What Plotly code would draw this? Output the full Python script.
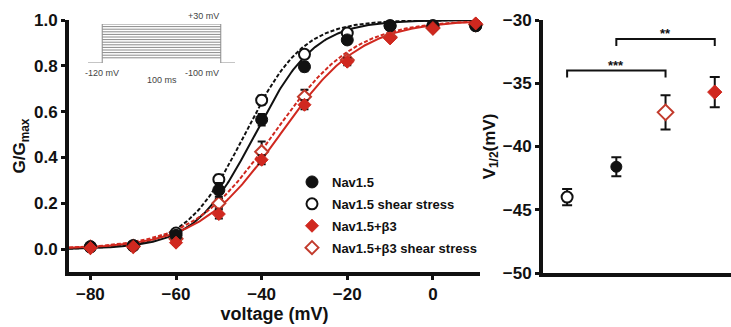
import numpy as np
import plotly.graph_objects as go

# ---- conductance-voltage data (G/Gmax) ----
voltages = [-80, -70, -60, -50, -40, -30, -20, -10, 0, 10]
g_nav15 = [0.010, 0.015, 0.060, 0.258, 0.565, 0.796, 0.913, 0.975, 0.975, 0.975]
g_nav15_err = [0.005, 0.005, 0.010, 0.030, 0.025, 0.020, 0.010, 0.005, 0.005, 0.005]
g_nav15_ss = [0.010, 0.015, 0.070, 0.304, 0.650, 0.850, 0.943, 0.975, 0.975, 0.975]
g_nav15_ss_err = [0.005, 0.005, 0.010, 0.020, 0.020, 0.015, 0.010, 0.005, 0.005, 0.005]
g_b3 = [0.005, 0.010, 0.028, 0.153, 0.390, 0.630, 0.818, 0.920, 0.965, 0.985]
g_b3_err = [0.005, 0.005, 0.010, 0.020, 0.020, 0.020, 0.015, 0.005, 0.005, 0.005]
g_b3_ss = [0.008, 0.012, 0.045, 0.200, 0.425, 0.665, 0.825, 0.925, 0.965, 0.980]
g_b3_ss_err = [0.005, 0.005, 0.010, 0.020, 0.045, 0.030, 0.015, 0.005, 0.005, 0.005]

# ---- half-activation voltages (right panel), order along x ----
vhalf_labels = ["Nav1.5 shear stress", "Nav1.5", "Nav1.5+β3 shear stress", "Nav1.5+β3"]
vhalf = [-44.0, -41.6, -37.3, -35.7]
vhalf_err = [0.65, 0.75, 1.35, 1.2]

# Boltzmann slope factors for the fitted curves (same order as vhalf)
slope_k = [6.8, 7.0, 9.5, 9.5]

# significance brackets: (from index, to index, height, label)
sig_pairs = [(0, 2, -34.0, "***"), (1, 3, -31.5, "**")]

# stimulation protocol (inset)
protocol_levels = list(range(-100, 31, 10))
holding_mv = -120
step_ms = 100

BLACK = "#111111"
RED = "#d0281f"
RED_DARK = "#c23a2c"
W, H = 731, 327


def px_x(p):
    return p / W


def px_y(p):
    return 1 - p / H


fig = go.Figure()

# fitted Boltzmann curves
v_fit = np.linspace(-85, 11, 300)
curve_styles = {
    "Nav1.5 shear stress": dict(color=BLACK, dash="4px,2px"),
    "Nav1.5": dict(color=BLACK, dash="solid"),
    "Nav1.5+β3 shear stress": dict(color=RED, dash="4px,2px"),
    "Nav1.5+β3": dict(color=RED, dash="solid"),
}
for name, vh, k in zip(vhalf_labels, vhalf, slope_k):
    g_fit = 1.0 / (1.0 + np.exp((vh - v_fit) / k))
    st = curve_styles[name]
    fig.add_trace(go.Scatter(
        x=v_fit, y=g_fit, mode="lines", showlegend=False, hoverinfo="skip",
        line=dict(color=st["color"], width=2, dash=st["dash"]),
        xaxis="x", yaxis="y"))

err_style = dict(type="data", color=BLACK, thickness=2, width=4)

series = [
    ("Nav1.5", g_nav15, g_nav15_err,
     dict(symbol="circle", size=12, color=BLACK, line=dict(color=BLACK, width=1))),
    ("Nav1.5 shear stress", g_nav15_ss, g_nav15_ss_err,
     dict(symbol="circle", size=11, color="white", line=dict(color=BLACK, width=2))),
    ("Nav1.5+β3", g_b3, g_b3_err,
     dict(symbol="diamond", size=10, color=RED, line=dict(color=RED, width=1))),
    ("Nav1.5+β3 shear stress", g_b3_ss, g_b3_ss_err,
     dict(symbol="diamond", size=10, color="white", line=dict(color=RED_DARK, width=2))),
]
# draw shear-stress sets first so the control markers sit on top
draw_order = [1, 3, 0, 2]
legend_rank = {0: 1, 1: 2, 2: 3, 3: 4}
for i in draw_order:
    name, g, ge, mk = series[i]
    fig.add_trace(go.Scatter(
        x=voltages, y=g, mode="markers", name=name, marker=mk,
        error_y=dict(array=ge, **err_style), cliponaxis=False,
        legendgroup=name, legendrank=legend_rank[i],
        xaxis="x", yaxis="y"))

# right panel: V1/2 values
right_markers = [
    dict(symbol="circle", size=11, color="white", line=dict(color=BLACK, width=2)),
    dict(symbol="circle", size=11, color=BLACK, line=dict(color=BLACK, width=1)),
    dict(symbol="diamond", size=12, color="white", line=dict(color=RED_DARK, width=2)),
    dict(symbol="diamond", size=11, color=RED, line=dict(color=RED, width=1)),
]
for i, (name, v, e) in enumerate(zip(vhalf_labels, vhalf, vhalf_err)):
    fig.add_trace(go.Scatter(
        x=[i], y=[v], mode="markers", showlegend=False, marker=right_markers[i],
        error_y=dict(array=[e], type="data", color=BLACK, thickness=2, width=5),
        xaxis="x2", yaxis="y2"))

# significance brackets
annotations = []
for a, b, h, lab in sig_pairs:
    tip = h - 0.55
    fig.add_trace(go.Scatter(
        x=[a, a, b, b], y=[tip, h, h, tip], mode="lines", showlegend=False,
        hoverinfo="skip", line=dict(color=BLACK, width=2),
        xaxis="x2", yaxis="y2"))
    annotations.append(dict(
        x=(a + b) / 2, y=h, xref="x2", yref="y2", text=lab, showarrow=False,
        yanchor="bottom", yshift=-4,
        font=dict(size=13, color=BLACK, family="Liberation Sans", weight="bold")))

# inset: voltage-step protocol
t_pre, t_post = -12, step_ms + 12
for lvl in protocol_levels:
    fig.add_trace(go.Scatter(
        x=[0, step_ms], y=[lvl, lvl], mode="lines", showlegend=False,
        hoverinfo="skip", line=dict(color="#8a8a8a", width=1),
        xaxis="x3", yaxis="y3"))
fig.add_trace(go.Scatter(
    x=[t_pre, 0, 0, None, step_ms, step_ms, t_post],
    y=[holding_mv, holding_mv, max(protocol_levels), None,
       max(protocol_levels), holding_mv, holding_mv],
    mode="lines", showlegend=False, hoverinfo="skip",
    line=dict(color="#8a8a8a", width=1), xaxis="x3", yaxis="y3"))

inset_font = dict(size=9, color="#444444", family="Liberation Sans", weight="normal")
annotations += [
    dict(x=step_ms, y=max(protocol_levels), xref="x3", yref="y3", text="+30 mV",
         showarrow=False, xanchor="right", yanchor="bottom", yshift=1, font=inset_font),
    dict(x=0, y=holding_mv, xref="x3", yref="y3", text="-120 mV",
         showarrow=False, xanchor="center", yanchor="top", yshift=-3, font=inset_font),
    dict(x=step_ms, y=holding_mv, xref="x3", yref="y3", text="-100 mV",
         showarrow=False, xanchor="right", yanchor="top", yshift=-3, font=inset_font),
    dict(x=step_ms / 2, y=holding_mv, xref="x3", yref="y3", text="100 ms",
         showarrow=False, xanchor="center", yanchor="top", yshift=-10, font=inset_font),
]

axis_common = dict(showline=True, linecolor=BLACK, linewidth=4, showgrid=False,
                   zeroline=False, ticks="outside", ticklen=4, tickwidth=2.5,
                   tickcolor=BLACK, automargin=False,
                   tickfont=dict(size=17, color=BLACK, family="Liberation Sans", weight="bold"))

fig.update_layout(
    width=W, height=H, margin=dict(l=0, r=0, t=0, b=0),
    template="none", paper_bgcolor="white", plot_bgcolor="white",
    font=dict(family="Liberation Sans", color=BLACK),
    xaxis=dict(domain=[px_x(69), px_x(480)], range=[-85, 11],
               tickvals=[-80, -60, -40, -20, 0], anchor="y",
               title=dict(text="voltage (mV)", standoff=2,
                          font=dict(size=18, family="Liberation Sans", weight="bold")),
               **axis_common),
    yaxis=dict(domain=[px_y(272), px_y(20)], range=[-0.1, 1.0],
               tickvals=[0, 0.2, 0.4, 0.6, 0.8, 1.0], tickformat=".1f", anchor="x",
               title=dict(text="G/G<sub>max</sub>", standoff=5,
                          font=dict(size=17, family="Liberation Sans", weight="bold")),
               **axis_common),
    xaxis2=dict(domain=[px_x(543), 1.0], range=[-0.49, 3.33], anchor="y2",
                showline=True, linecolor=BLACK, linewidth=4, showgrid=False,
                zeroline=False, ticks="", showticklabels=False, automargin=False),
    yaxis2=dict(domain=[px_y(273), px_y(20)], range=[-50, -30],
                tickvals=[-50, -45, -40, -35, -30], anchor="x2",
                title=dict(text="V<sub>1/2</sub>(mV)", standoff=4,
                           font=dict(size=17, family="Liberation Sans", weight="bold")),
                **axis_common),
    xaxis3=dict(domain=[px_x(88), px_x(235)], range=[t_pre, t_post], visible=False,
                anchor="y3", fixedrange=True),
    yaxis3=dict(domain=[px_y(63), px_y(24)], range=[holding_mv, max(protocol_levels)],
                visible=False, anchor="x3", fixedrange=True),
    legend=dict(x=px_x(292), y=px_y(167), xanchor="left", yanchor="top",
                bgcolor="rgba(0,0,0,0)", borderwidth=0, tracegroupgap=2,
                traceorder="grouped",
                font=dict(size=13, color=BLACK, family="Liberation Sans", weight="bold")),
    annotations=annotations,
    showlegend=True,
)

fig.write_html("out.html")
